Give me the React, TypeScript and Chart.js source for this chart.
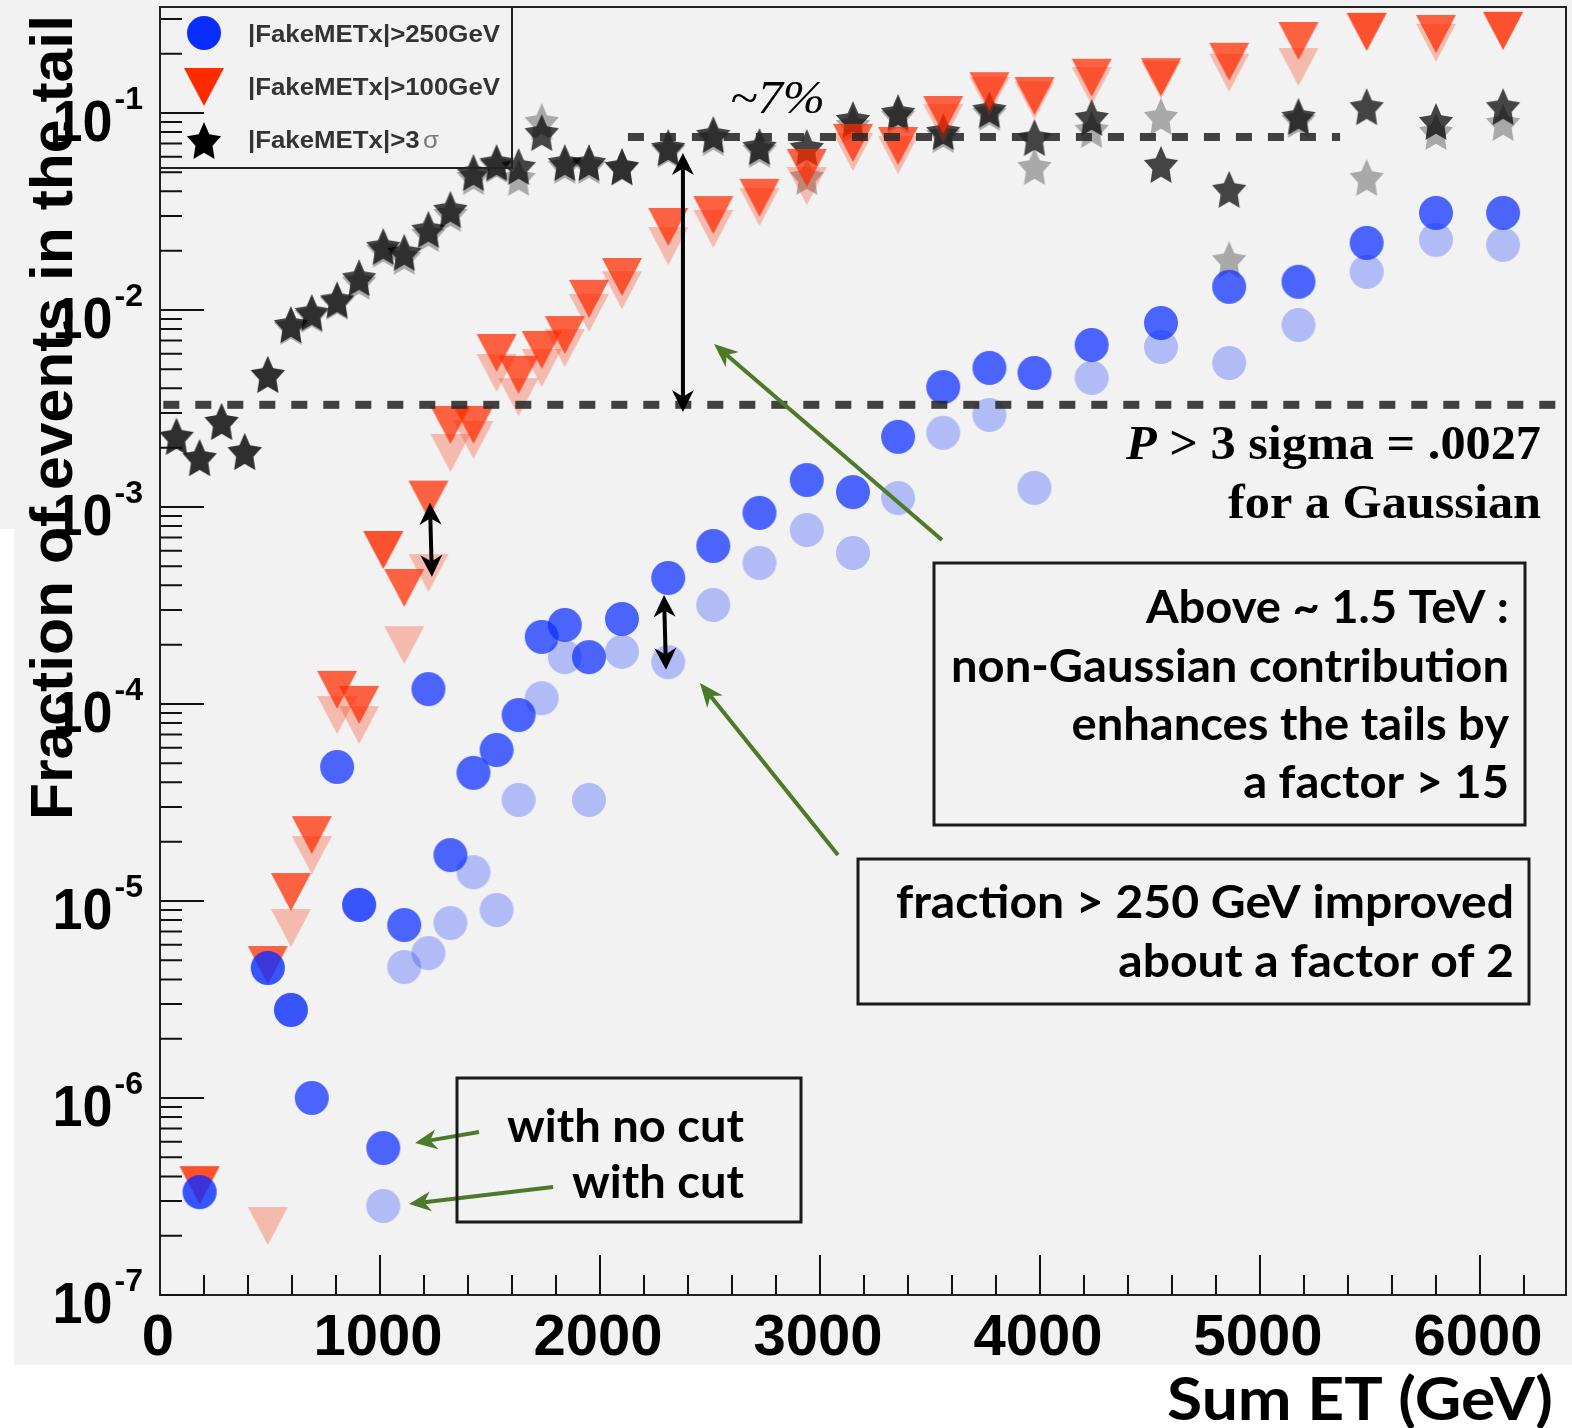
import React, { useEffect, useRef } from "react";
import { Chart, registerables } from "chart.js";

Chart.register(...registerables);

// ---------------- data ----------------
const sumEt = [75, 180, 280, 385, 490, 595, 690, 805, 905, 1015, 1110, 1220, 1320, 1425, 1530, 1630, 1735, 1840, 1950, 2100, 2310, 2515, 2725, 2940, 3150, 3355, 3560, 3770, 3975, 4235, 4550, 4860, 5175, 5485, 5800, 6105];

// |FakeMETx| > 250 GeV
const frac250NoCut = [null, 3.33e-7, null, null, 4.57e-6, 2.8e-6, 1.0e-6, 4.79e-5, 9.55e-6, 5.57e-7, 7.55e-6, 1.19e-4, 1.71e-5, 4.47e-5, 5.84e-5, 8.79e-5, 2.19e-4, 2.52e-4, 1.73e-4, 2.7e-4, 4.36e-4, 6.34e-4, 9.33e-4, 1.37e-3, 1.19e-3, 2.27e-3, 4.06e-3, 5.08e-3, 4.79e-3, 6.64e-3, 8.59e-3, 1.31e-2, 1.39e-2, 2.19e-2, 3.11e-2, 3.11e-2];
const frac250Cut = [null, 3.33e-7, null, null, 4.57e-6, 2.8e-6, null, null, 9.55e-6, 2.83e-7, 4.62e-6, 5.44e-6, 7.73e-6, 1.4e-5, 9.0e-6, 3.26e-5, 1.07e-4, 1.73e-4, 3.26e-5, 1.84e-4, 1.63e-4, 3.18e-4, 5.2e-4, 7.64e-4, 5.84e-4, 1.11e-3, 2.38e-3, 2.93e-3, 1.25e-3, 4.52e-3, 6.49e-3, 5.38e-3, 8.39e-3, 1.56e-2, 2.27e-2, 2.14e-2];

// |FakeMETx| > 100 GeV
const frac100NoCut = [null, 3.61e-7, null, null, 4.73e-6, 1.11e-5, 2.16e-5, 1.18e-4, 9.89e-5, 6.05e-4, 3.88e-4, 1.09e-3, 2.61e-3, 2.61e-3, 6.05e-3, 4.68e-3, 6.27e-3, 7.46e-3, 1.14e-2, 1.47e-2, 2.64e-2, 3.03e-2, 3.71e-2, 5.26e-2, 7.05e-2, 6.8e-2, 9.77e-2, 0.129, 0.122, 0.151, 0.152, 0.182, 0.232, 0.258, 0.252, 0.261];
const frac100Cut = [null, 3.61e-7, null, null, 2.24e-7, 7.29e-6, 1.71e-5, 8.79e-5, 7.82e-5, 6.05e-4, 1.99e-4, 4.62e-4, 1.88e-3, 2.19e-3, 4.79e-3, 3.61e-3, 5.08e-3, 6.41e-3, 9.66e-3, 1.26e-2, 2.11e-2, 2.58e-2, 3.33e-2, 4.26e-2, 6.34e-2, 6.12e-2, 8.89e-2, 0.122, 0.116, 0.137, 0.147, 0.16, 0.171, 0.258, 0.227, 0.261];

// |FakeMETx| > 3 sigma
const frac3sNoCut = [2.27e-3, 1.77e-3, 2.7e-3, 1.9e-3, 4.68e-3, 8.39e-3, 9.66e-3, 1.12e-2, 1.45e-2, 2.09e-2, 1.95e-2, 2.55e-2, 3.22e-2, 4.96e-2, 5.57e-2, 5.32e-2, 7.91e-2, 5.57e-2, 5.57e-2, 5.32e-2, 6.64e-2, 7.73e-2, 6.72e-2, 6.64e-2, 9.21e-2, 0.1, 8.01e-2, 0.1035, 7.46e-2, 9.43e-2, 5.45e-2, 4.07e-2, 9.55e-2, 0.107, 9.0e-2, 0.107];
const frac3sCut = [2.27e-3, 1.77e-3, 2.7e-3, 1.9e-3, 4.68e-3, 8.2e-3, 9.44e-3, 1.1e-2, 1.39e-2, 2.02e-2, 1.86e-2, 2.43e-2, 3.07e-2, 4.73e-2, 5.45e-2, 4.68e-2, 9.0e-2, 5.38e-2, 5.38e-2, 5.26e-2, 6.49e-2, 7.46e-2, 6.49e-2, 4.73e-2, 8.69e-2, 9.66e-2, 7.73e-2, 0.1, 5.32e-2, 8.2e-2, 9.55e-2, 1.79e-2, 9.21e-2, 4.68e-2, 8.01e-2, 8.89e-2];

const seriesLabels = ["|FakeMETx|>250GeV", "|FakeMETx|>100GeV", "|FakeMETx|>3"];
const xTickValues = [0, 1000, 2000, 3000, 4000, 5000, 6000];
const xTickLabels = ["0", "1000", "2000", "3000", "4000", "5000", "6000"];
const yDecades = [-7, -6, -5, -4, -3, -2, -1];
const xTitle = "Sum ET (GeV)";
const yTitle = "Fraction of events in the tail";

// reference levels / annotations in data units
const gaussLevel = 3.3e-3;
const gaussLine = [15, 6390];
const plateauLevel = 0.0755;
const plateauLine = [2127, 5364];
const bigArrow = { x: 2377, y1: 6.26e-2, y2: 3.03e-3 };
const smallArrow100 = { x1: 1227, y1: 1.05e-3, x2: 1236, y2: 4.42e-4 };
const smallArrow250 = { x1: 2291, y1: 3.57e-4, x2: 2300, y2: 1.49e-4 };

const W = 1572;
const H = 1428;

// ---------------- marker images ----------------
function makeMarker(kind: string, color: string): HTMLCanvasElement {
  const c = document.createElement("canvas");
  c.width = 46;
  c.height = 46;
  const g = c.getContext("2d")!;
  g.fillStyle = color;
  const cx = 23, cy = 23;
  g.beginPath();
  if (kind === "circle") {
    g.arc(cx, cy, 17, 0, Math.PI * 2);
  } else if (kind === "tri") {
    g.moveTo(cx - 20, cy - 19);
    g.lineTo(cx + 20, cy - 19);
    g.lineTo(cx, cy + 19);
    g.closePath();
  } else {
    for (let i = 0; i < 10; i++) {
      const a = -Math.PI / 2 + (i * Math.PI) / 5;
      const r = i % 2 === 0 ? 1 : 0.5;
      const px = cx + Math.cos(a) * 18 * r;
      const py = cy + 1.5 + Math.sin(a) * 20.5 * r;
      if (i === 0) g.moveTo(px, py);
      else g.lineTo(px, py);
    }
    g.closePath();
  }
  g.fill();
  return c;
}

const SANS = '"Liberation Sans", Arial, Helvetica, sans-serif';
const HUMAN = 'Lato, "Open Sans", "DejaVu Sans", sans-serif';
const SERIF = '"Liberation Serif", "Times New Roman", serif';

function fitText(ctx: CanvasRenderingContext2D, text: string, x: number, y: number, font: string, width: number, align: CanvasTextAlign) {
  ctx.save();
  ctx.font = font;
  const w = ctx.measureText(text).width;
  ctx.translate(x, y);
  ctx.scale(width / w, 1);
  ctx.textAlign = align;
  ctx.fillText(text, 0, 0);
  ctx.restore();
}

function drawBlock(ctx: CanvasRenderingContext2D, lines: string[], rightX: number, baselines: number[], font: string, widest: number) {
  ctx.save();
  ctx.font = font;
  const maxW = Math.max(...lines.map((l) => ctx.measureText(l).width));
  const s = widest / maxW;
  lines.forEach((l, i) => {
    ctx.save();
    ctx.translate(rightX, baselines[i]);
    ctx.scale(s, 1);
    ctx.textAlign = "right";
    ctx.fillText(l, 0, 0);
    ctx.restore();
  });
  ctx.restore();
}

function arrow(ctx: CanvasRenderingContext2D, x1: number, y1: number, x2: number, y2: number, color: string, lw: number, hl: number, hw: number, both: boolean) {
  const dx = x2 - x1, dy = y2 - y1;
  const len = Math.hypot(dx, dy);
  const ux = dx / len, uy = dy / len;
  const nx = -uy, ny = ux;
  ctx.save();
  ctx.strokeStyle = color;
  ctx.fillStyle = color;
  ctx.lineWidth = lw;
  ctx.beginPath();
  const sx = both ? x1 + ux * hl * 0.7 : x1;
  const sy = both ? y1 + uy * hl * 0.7 : y1;
  ctx.moveTo(sx, sy);
  ctx.lineTo(x2 - ux * hl * 0.7, y2 - uy * hl * 0.7);
  ctx.stroke();
  const head = (tx: number, ty: number, dirx: number, diry: number) => {
    const bx = tx - dirx * hl, by = ty - diry * hl;
    const mx = tx - dirx * hl * 0.7, my = ty - diry * hl * 0.7;
    ctx.beginPath();
    ctx.moveTo(tx, ty);
    ctx.lineTo(bx + nx * hw, by + ny * hw);
    ctx.lineTo(mx, my);
    ctx.lineTo(bx - nx * hw, by - ny * hw);
    ctx.closePath();
    ctx.fill();
  };
  head(x2, y2, ux, uy);
  if (both) head(x1, y1, -ux, -uy);
  ctx.restore();
}

function box(ctx: CanvasRenderingContext2D, x1: number, y1: number, x2: number, y2: number) {
  ctx.save();
  ctx.strokeStyle = "#1a1a1a";
  ctx.lineWidth = 3;
  ctx.strokeRect(x1, y1, x2 - x1, y2 - y1);
  ctx.restore();
}

export default function App() {
  const ref = useRef<HTMLCanvasElement>(null);

  useEffect(() => {
    const canvas = ref.current!;

    const mk = (vals: (number | null)[]) =>
      sumEt.map((x, i) => ({ x, y: vals[i] })).filter((p) => p.y !== null && p.y !== undefined);

    const m = {
      blue: makeMarker("circle", "rgba(10,45,255,0.72)"),
      blueCut: makeMarker("circle", "rgba(10,45,255,0.28)"),
      red: makeMarker("tri", "rgba(255,42,0,0.73)"),
      redCut: makeMarker("tri", "rgba(255,42,0,0.28)"),
      star: makeMarker("star", "rgba(0,0,0,0.72)"),
      starCut: makeMarker("star", "rgba(0,0,0,0.3)"),
      blueL: makeMarker("circle", "#0a2dff"),
      redL: makeMarker("tri", "#ff2a00"),
      starL: makeMarker("star", "#000000"),
    };

    const decor = {
      id: "decor",
      beforeDraw(chart: any) {
        const ctx = chart.ctx as CanvasRenderingContext2D;
        ctx.save();
        ctx.fillStyle = "#ffffff";
        ctx.fillRect(0, 0, W, H);
        ctx.fillStyle = "#f2f2f2";
        ctx.fillRect(0, 0, W, 529);
        ctx.fillRect(14, 529, W - 14, 1365 - 529);
        ctx.restore();
      },
      afterDatasetsDraw(chart: any) {
        const ctx = chart.ctx as CanvasRenderingContext2D;
        const xs = chart.scales.x;
        const ys = chart.scales.y;
        const { left, right, top, bottom } = chart.chartArea;
        const X = (v: number) => xs.getPixelForValue(v);
        const Y = (v: number) => ys.getPixelForValue(v);

        // dashed reference lines
        ctx.save();
        ctx.strokeStyle = "rgba(40,40,40,0.88)";
        ctx.lineWidth = 8;
        ctx.setLineDash([16, 16]);
        ctx.beginPath();
        ctx.moveTo(X(gaussLine[0]), Y(gaussLevel));
        ctx.lineTo(X(gaussLine[1]), Y(gaussLevel));
        ctx.stroke();
        ctx.beginPath();
        ctx.moveTo(X(plateauLine[0]), Y(plateauLevel));
        ctx.lineTo(X(plateauLine[1]), Y(plateauLevel));
        ctx.stroke();
        ctx.restore();

        // black double arrows
        arrow(ctx, X(bigArrow.x), Y(bigArrow.y1), X(bigArrow.x), Y(bigArrow.y2), "#000", 4, 22, 11, true);
        arrow(ctx, X(smallArrow100.x1), Y(smallArrow100.y1), X(smallArrow100.x2), Y(smallArrow100.y2), "#000", 4, 22, 11, true);
        arrow(ctx, X(smallArrow250.x1), Y(smallArrow250.y1), X(smallArrow250.x2), Y(smallArrow250.y2), "#000", 4, 22, 11, true);

        // green pointer arrows
        const green = "#4c7a2a";
        arrow(ctx, 942, 540, 714, 344, green, 4, 24, 10, false);
        arrow(ctx, 838, 855, 700, 683, green, 4, 24, 10, false);
        arrow(ctx, 479, 1132, 415, 1143, green, 4, 22, 10, false);
        arrow(ctx, 553, 1187, 409, 1204, green, 4, 22, 10, false);

        // frame
        ctx.save();
        ctx.strokeStyle = "#222";
        ctx.lineWidth = 2;
        ctx.strokeRect(left, top, right - left, bottom - top);
        // ticks
        ctx.strokeStyle = "#111";
        ctx.beginPath();
        for (let v = 200; v <= xs.max; v += 200) {
          const px = X(v);
          const major = v % 1000 === 0;
          ctx.moveTo(px, bottom);
          ctx.lineTo(px, bottom - (major ? 40 : 20));
        }
        for (const d of yDecades) {
          for (let k = 1; k <= 9; k++) {
            const v = k * Math.pow(10, d);
            if (v > ys.max) break;
            const py = Y(v);
            ctx.moveTo(left, py);
            ctx.lineTo(left + (k === 1 ? 44 : 22), py);
          }
        }
        ctx.stroke();
        ctx.restore();

        // tick labels
        ctx.save();
        ctx.fillStyle = "#000";
        ctx.textBaseline = "alphabetic";
        ctx.font = `bold 58px ${SANS}`;
        ctx.textAlign = "center";
        xTickValues.forEach((v, i) => {
          ctx.fillText(xTickLabels[i], X(v) - 2, bottom + 60);
        });
        for (const d of yDecades) {
          const py = Y(Math.pow(10, d));
          const exp = String(d);
          ctx.font = `bold 32px ${SANS}`;
          ctx.textAlign = "right";
          ctx.fillText(exp, 143, py - 4);
          const ew = ctx.measureText(exp).width;
          ctx.save();
          ctx.font = `bold 58px ${SANS}`;
          ctx.translate(143 - ew - 2, py + 28);
          ctx.scale(0.93, 1);
          ctx.fillText("10", 0, 0);
          ctx.restore();
        }
        ctx.restore();

        // axis titles
        ctx.save();
        ctx.fillStyle = "#000";
        ctx.font = `bold 60px ${SANS}`;
        const tw = ctx.measureText(yTitle).width;
        ctx.translate(72, 820);
        ctx.rotate(-Math.PI / 2);
        ctx.scale(805 / tw, 1);
        ctx.textAlign = "left";
        ctx.fillText(yTitle, 0, 0);
        ctx.restore();
        ctx.save();
        ctx.fillStyle = "#000";
        fitText(ctx, xTitle, 1553, 1420, `bold 60px ${HUMAN}`, 386, "right");
        ctx.restore();

        // legend
        ctx.save();
        ctx.strokeStyle = "#222";
        ctx.lineWidth = 2;
        ctx.strokeRect(left, top, 512 - left, 168 - top);
        const lm = [m.blueL, m.redL, m.starL];
        const ly = [33, 87, 141];
        const lb = [42, 95, 148];
        ctx.font = `bold 23px ${SANS}`;
        const ls = 252 / ctx.measureText(seriesLabels[0]).width;
        ctx.fillStyle = "#333";
        lm.forEach((img, i) => {
          ctx.drawImage(img, 204 - img.width / 2, ly[i] - img.height / 2);
          ctx.save();
          ctx.translate(248, lb[i]);
          ctx.scale(ls, 1);
          ctx.textAlign = "left";
          ctx.font = `bold 23px ${SANS}`;
          ctx.fillText(seriesLabels[i], 0, 0);
          if (i === 2) {
            const w = ctx.measureText(seriesLabels[i]).width;
            ctx.font = `23px ${SANS}`;
            ctx.fillStyle = "#777";
            ctx.fillText("σ", w + 3, 0);
          }
          ctx.restore();
        });
        ctx.restore();

        // annotation texts
        ctx.save();
        ctx.fillStyle = "#000";
        fitText(ctx, "~7%", 730, 113, `italic 46px ${SERIF}`, 95, "left");

        // P > 3 sigma = .0027
        ctx.font = `italic bold 48px ${SERIF}`;
        const wP = ctx.measureText("P").width;
        ctx.font = `bold 48px ${SERIF}`;
        const rest = " > 3 sigma = .0027";
        const wR = ctx.measureText(rest).width;
        const sP = 415 / (wP + wR);
        ctx.save();
        ctx.translate(1126, 459);
        ctx.scale(sP, 1);
        ctx.textAlign = "left";
        ctx.font = `italic bold 48px ${SERIF}`;
        ctx.fillText("P", 0, 0);
        ctx.font = `bold 48px ${SERIF}`;
        ctx.fillText(rest, wP, 0);
        ctx.restore();
        ctx.save();
        ctx.translate(1541, 518);
        ctx.scale(sP, 1);
        ctx.textAlign = "right";
        ctx.font = `bold 48px ${SERIF}`;
        ctx.fillText("for a Gaussian", 0, 0);
        ctx.restore();

        box(ctx, 934, 563, 1525, 825);
        drawBlock(ctx, ["Above ~ 1.5 TeV :", "non-Gaussian contribution", "enhances the tails by", "a factor > 15"], 1509, [623, 682, 740, 798], `bold 46px ${HUMAN}`, 558);

        box(ctx, 858, 859, 1529, 1004);
        drawBlock(ctx, ["fraction > 250 GeV improved", "about a factor of 2"], 1514, [918, 977], `bold 46px ${HUMAN}`, 618);

        box(ctx, 457, 1078, 801, 1222);
        drawBlock(ctx, ["with no cut", "with cut"], 744, [1142, 1198], `bold 46px ${HUMAN}`, 237);
        ctx.restore();
      },
    };

    const chart = new Chart(canvas, {
      type: "scatter",
      data: {
        datasets: [
          { label: seriesLabels[2] + "σ cut", data: mk(frac3sCut), pointStyle: m.starCut, pointRadius: 12, order: 6 },
          { label: seriesLabels[2] + "σ", data: mk(frac3sNoCut), pointStyle: m.star, pointRadius: 12, order: 5 },
          { label: seriesLabels[1] + " cut", data: mk(frac100Cut), pointStyle: m.redCut, pointRadius: 12, order: 4 },
          { label: seriesLabels[1], data: mk(frac100NoCut), pointStyle: m.red, pointRadius: 12, order: 3 },
          { label: seriesLabels[0] + " cut", data: mk(frac250Cut), pointStyle: m.blueCut, pointRadius: 12, order: 2 },
          { label: seriesLabels[0], data: mk(frac250NoCut), pointStyle: m.blue, pointRadius: 12, order: 1 },
        ] as any,
      },
      options: {
        animation: false,
        responsive: false,
        devicePixelRatio: 1,
        events: [],
        layout: { padding: { left: 0, top: 7, right: 6, bottom: 0 }, autoPadding: false } as any,
        plugins: {
          legend: { display: false },
          tooltip: { enabled: false },
          title: { display: false },
        },
        scales: {
          x: {
            type: "linear",
            min: 0,
            max: 6391,
            ticks: { display: false },
            grid: { display: false },
            border: { display: false },
            afterFit: (s: any) => {
              s.height = 133;
            },
          },
          y: {
            type: "logarithmic",
            min: 1e-7,
            max: 0.345,
            ticks: { display: false },
            grid: { display: false },
            border: { display: false },
            afterFit: (s: any) => {
              s.width = 160;
            },
          },
        },
      } as any,
      plugins: [decor],
    });

    return () => chart.destroy();
  }, []);

  return (
    <div style={{ position: "absolute", left: 0, top: 0, width: W, height: H }}>
      <canvas ref={ref} width={W} height={H} style={{ display: "block", width: W, height: H }} />
    </div>
  );
}
